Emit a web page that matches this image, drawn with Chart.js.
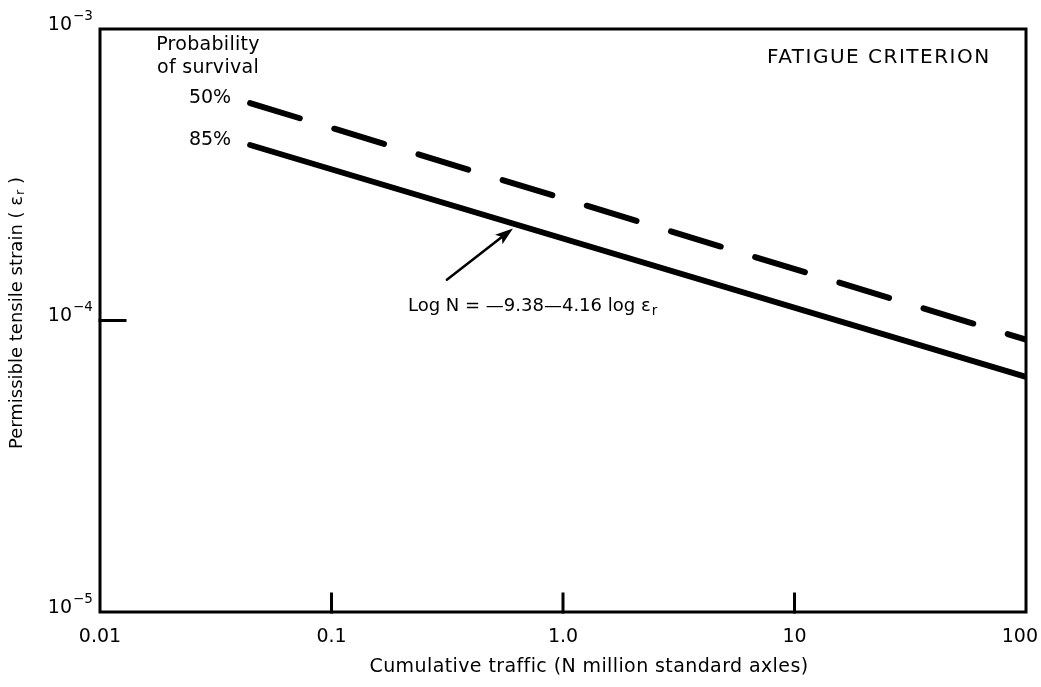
<!DOCTYPE html>
<html>
<head>
<meta charset="utf-8">
<script src="https://cdn.jsdelivr.net/npm/chart.js@4"></script>
<style>
  html, body { margin: 0; padding: 0; background: #fff; }
  canvas { display: block; }
</style>
</head>
<body>
<canvas id="fatigue" width="1041" height="687"></canvas>
<script>
// --- Data ---
const traffic   = [0.0445, 100];          // N, million standard axles
const strain50  = [5.57e-4, 8.6e-5];      // 50% probability of survival
const strain85  = [4.0e-4, 6.4e-5];       // 85% probability of survival

const xTicks      = [0.01, 0.1, 1, 10, 100];
const xTickLabels = ["0.01", "0.1", "1.0", "10", "100"];
const yTicks      = [1e-5, 1e-4, 1e-3];
const yTickPowers = ["\u22125", "\u22124", "\u22123"];
const survivalLabels = ["50%", "85%"];

// arrow from the equation label to the 85% line (data coordinates)
const arrowFrom = { x: 0.315, y: 1.38e-4 };
const arrowTo   = { x: 0.608, y: 2.07e-4 };

const FONT = "'DejaVu Sans', sans-serif";

function pts(xs, ys) {
  return xs.map((x, i) => ({ x, y: ys[i] }));
}

function text(ctx, str, x, y, size, spacing = 0) {
  ctx.font = size + "px " + FONT;
  ctx.letterSpacing = spacing + "px";
  ctx.fillText(str, x, y);
  ctx.letterSpacing = "0px";
}

function width(ctx, str, size) {
  ctx.font = size + "px " + FONT;
  return ctx.measureText(str).width;
}

// --- Frame, ticks and lettering ---
const decorations = {
  id: "decorations",
  afterDraw(chart) {
    const { ctx, chartArea: a, scales: { x, y } } = chart;
    ctx.save();
    ctx.strokeStyle = "#000";
    ctx.fillStyle   = "#000";
    ctx.lineCap     = "square";

    // box
    ctx.lineWidth = 3;
    ctx.strokeRect(a.left, a.top, a.right - a.left, a.bottom - a.top);

    // inward ticks on the x axis
    xTicks.slice(1, -1).forEach(v => {
      const px = x.getPixelForValue(v);
      ctx.beginPath();
      ctx.moveTo(px, a.bottom);
      ctx.lineTo(px, a.bottom - 18);
      ctx.stroke();
    });

    // inward tick on the y axis
    yTicks.slice(1, -1).forEach(v => {
      const py = y.getPixelForValue(v);
      ctx.beginPath();
      ctx.moveTo(a.left, py);
      ctx.lineTo(a.left + 25, py);
      ctx.stroke();
    });

    ctx.textBaseline = "middle";

    // x tick labels
    ctx.textAlign = "center";
    xTicks.forEach((v, i) => {
      const w = width(ctx, xTickLabels[i], 19);
      const px = Math.min(x.getPixelForValue(v), chart.width - w / 2 - 3);
      text(ctx, xTickLabels[i], px, a.bottom + 25, 19);
    });

    // y tick labels as 10 with a raised exponent
    yTicks.forEach((v, i) => {
      const py = y.getPixelForValue(v);
      ctx.textAlign = "right";
      text(ctx, "10", 72, py - 4, 19);
      ctx.textAlign = "left";
      text(ctx, yTickPowers[i], 73, py - 13, 13.5);
    });

    // x axis title
    ctx.textAlign = "center";
    text(ctx, "Cumulative traffic (N million standard axles)", 589, 667, 19, 0.4);

    // y axis title, epsilon with subscript r
    ctx.save();
    ctx.translate(17, 313);
    ctx.rotate(-Math.PI / 2);
    ctx.textAlign = "left";
    const head = "Permissible tensile strain ( \u03B5", tail = " )";
    const wHead = width(ctx, head, 18), wSub = width(ctx, "r", 13), wTail = width(ctx, tail, 18);
    let tx = -(wHead + wSub + 1 + wTail) / 2;
    text(ctx, head, tx, 0, 18);
    tx += wHead + 1;
    text(ctx, "r", tx, 4, 13);
    tx += wSub;
    text(ctx, tail, tx, 0, 18);
    ctx.restore();

    // heading
    ctx.textAlign = "left";
    text(ctx, "FATIGUE CRITERION", 767, 58, 20, 1.5);

    // survival legend
    ctx.textAlign = "center";
    text(ctx, "Probability", 208, 45, 19, 0.3);
    text(ctx, "of survival", 208, 68, 19, 0.3);
    text(ctx, survivalLabels[0], 210, 98, 19);
    text(ctx, survivalLabels[1], 210, 140, 19);

    // equation
    ctx.textAlign = "left";
    const eq = "Log N = \u20149.38\u20144.16 log \u03B5";
    text(ctx, eq, 408, 306, 18);
    text(ctx, "r", 408 + width(ctx, eq, 18) + 1, 311, 13.5);

    // arrow
    const x0 = x.getPixelForValue(arrowFrom.x), y0 = y.getPixelForValue(arrowFrom.y);
    const x1 = x.getPixelForValue(arrowTo.x),   y1 = y.getPixelForValue(arrowTo.y);
    const ang = Math.atan2(y1 - y0, x1 - x0);
    const c = Math.cos(ang), s = Math.sin(ang);
    ctx.lineWidth = 2.5;
    ctx.lineCap = "round";
    ctx.beginPath();
    ctx.moveTo(x0, y0);
    ctx.lineTo(x1 - 10 * c, y1 - 10 * s);
    ctx.stroke();
    ctx.beginPath();
    ctx.moveTo(x1, y1);
    ctx.lineTo(x1 - 18 * c + 6 * s, y1 - 18 * s - 6 * c);
    ctx.lineTo(x1 - 14 * c, y1 - 14 * s);
    ctx.lineTo(x1 - 18 * c - 6 * s, y1 - 18 * s + 6 * c);
    ctx.closePath();
    ctx.fill();

    ctx.restore();
  }
};

new Chart(document.getElementById("fatigue"), {
  type: "line",
  data: {
    datasets: [
      {
        label: "50%",
        data: pts(traffic, strain50),
        borderColor: "#000",
        borderWidth: 6,
        borderDash: [52, 36],
        borderCapStyle: "round",
        pointRadius: 0,
        tension: 0
      },
      {
        label: "85%",
        data: pts(traffic, strain85),
        borderColor: "#000",
        borderWidth: 6,
        borderCapStyle: "round",
        pointRadius: 0,
        tension: 0
      }
    ]
  },
  options: {
    responsive: false,
    animation: false,
    devicePixelRatio: 1,
    layout: { padding: { left: 100, right: 15, top: 29, bottom: 75 } },
    plugins: { legend: { display: false }, tooltip: { enabled: false } },
    scales: {
      x: { type: "logarithmic", min: 0.01, max: 100, display: false },
      y: { type: "logarithmic", min: 1e-5, max: 1e-3, display: false }
    }
  },
  plugins: [decorations]
});
</script>
</body>
</html>
